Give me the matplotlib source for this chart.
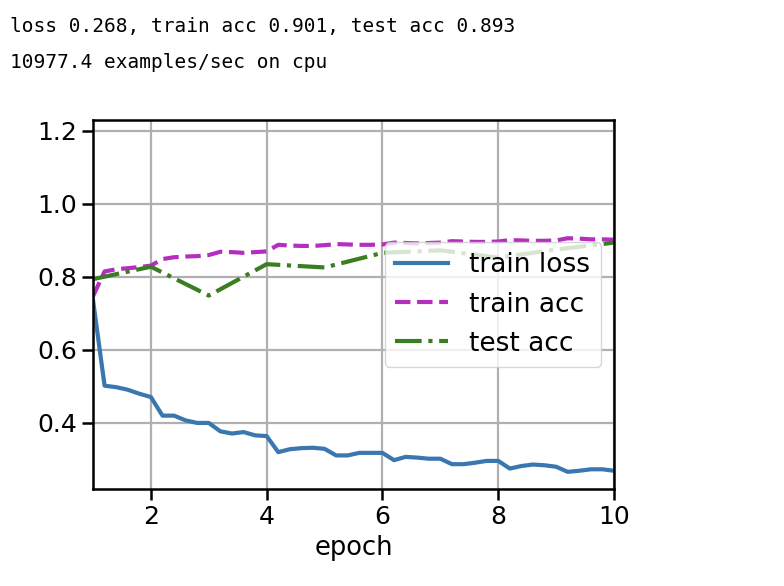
import numpy as np
import matplotlib
matplotlib.use('Agg')
import matplotlib.pyplot as plt

# train metrics recorded 5x per epoch, test acc once per epoch
batch_x = [1.0, 1.2, 1.4, 1.6, 1.8, 2.0, 2.2, 2.4, 2.6, 2.8, 3.0, 3.2, 3.4, 3.6, 3.8,
           4.0, 4.2, 4.4, 4.6, 4.8, 5.0, 5.2, 5.4, 5.6, 5.8, 6.0, 6.2, 6.4, 6.6, 6.8,
           7.0, 7.2, 7.4, 7.6, 7.8, 8.0, 8.2, 8.4, 8.6, 8.8, 9.0, 9.2, 9.4, 9.6, 9.8, 10.0]
train_loss = [0.736, 0.501, 0.497, 0.490, 0.479, 0.470, 0.419, 0.419, 0.406, 0.399,
              0.399, 0.376, 0.370, 0.374, 0.365, 0.363, 0.319, 0.327, 0.330, 0.331,
              0.328, 0.310, 0.310, 0.317, 0.317, 0.317, 0.297, 0.306, 0.304, 0.301,
              0.301, 0.286, 0.286, 0.290, 0.295, 0.295, 0.274, 0.281, 0.285, 0.283,
              0.279, 0.265, 0.268, 0.272, 0.272, 0.268]
train_acc = [0.746, 0.814, 0.820, 0.823, 0.826, 0.830, 0.848, 0.853, 0.855, 0.856,
             0.859, 0.868, 0.867, 0.865, 0.867, 0.869, 0.887, 0.885, 0.884, 0.884,
             0.886, 0.889, 0.888, 0.887, 0.887, 0.888, 0.893, 0.892, 0.891, 0.892,
             0.893, 0.897, 0.896, 0.895, 0.895, 0.896, 0.900, 0.899, 0.898, 0.898,
             0.899, 0.905, 0.904, 0.902, 0.902, 0.901]
epochs = [1, 2, 3, 4, 5, 6, 7, 8, 9, 10]
test_acc = [0.793, 0.827, 0.748, 0.834, 0.825, 0.865, 0.872, 0.852, 0.874, 0.893]

header = ['loss 0.268, train acc 0.901, test acc 0.893',
          '10977.4 examples/sec on cpu']

fig = plt.figure(figsize=(7.84, 5.86), dpi=100)
ax = fig.add_axes([93 / 784, 1 - 489 / 586, 521 / 784, 369 / 586])

lw = 3.0
ax.plot(batch_x, train_loss, '-', color='#3a76b0', lw=lw, label='train loss')
ax.plot(batch_x, train_acc, '--', color='#b42ebf', lw=lw, label='train acc')
ax.plot(epochs, test_acc, '-.', color='#3a7d23', lw=lw, label='test acc')

ax.set_xlim(1, 10)
ax.set_ylim(0.218, 1.229)
ax.set_xticks([2, 4, 6, 8, 10])
ax.set_yticks([0.4, 0.6, 0.8, 1.0, 1.2])
ax.tick_params(labelsize=18, width=1.8, length=8)
for s in ax.spines.values():
    s.set_linewidth(1.8)
ax.grid(True, color='#b0b0b0', lw=1.6)
ax.set_xlabel('epoch', fontsize=18.5)
ax.legend(loc='center right', fontsize=19, handlelength=2.0)

for i, line in enumerate(header):
    fig.text(10 / 784, 1 - (32 + 36 * i) / 586, line, family='DejaVu Sans Mono',
             fontsize=14, va='baseline', ha='left')

fig.savefig('out.png', dpi=100)
